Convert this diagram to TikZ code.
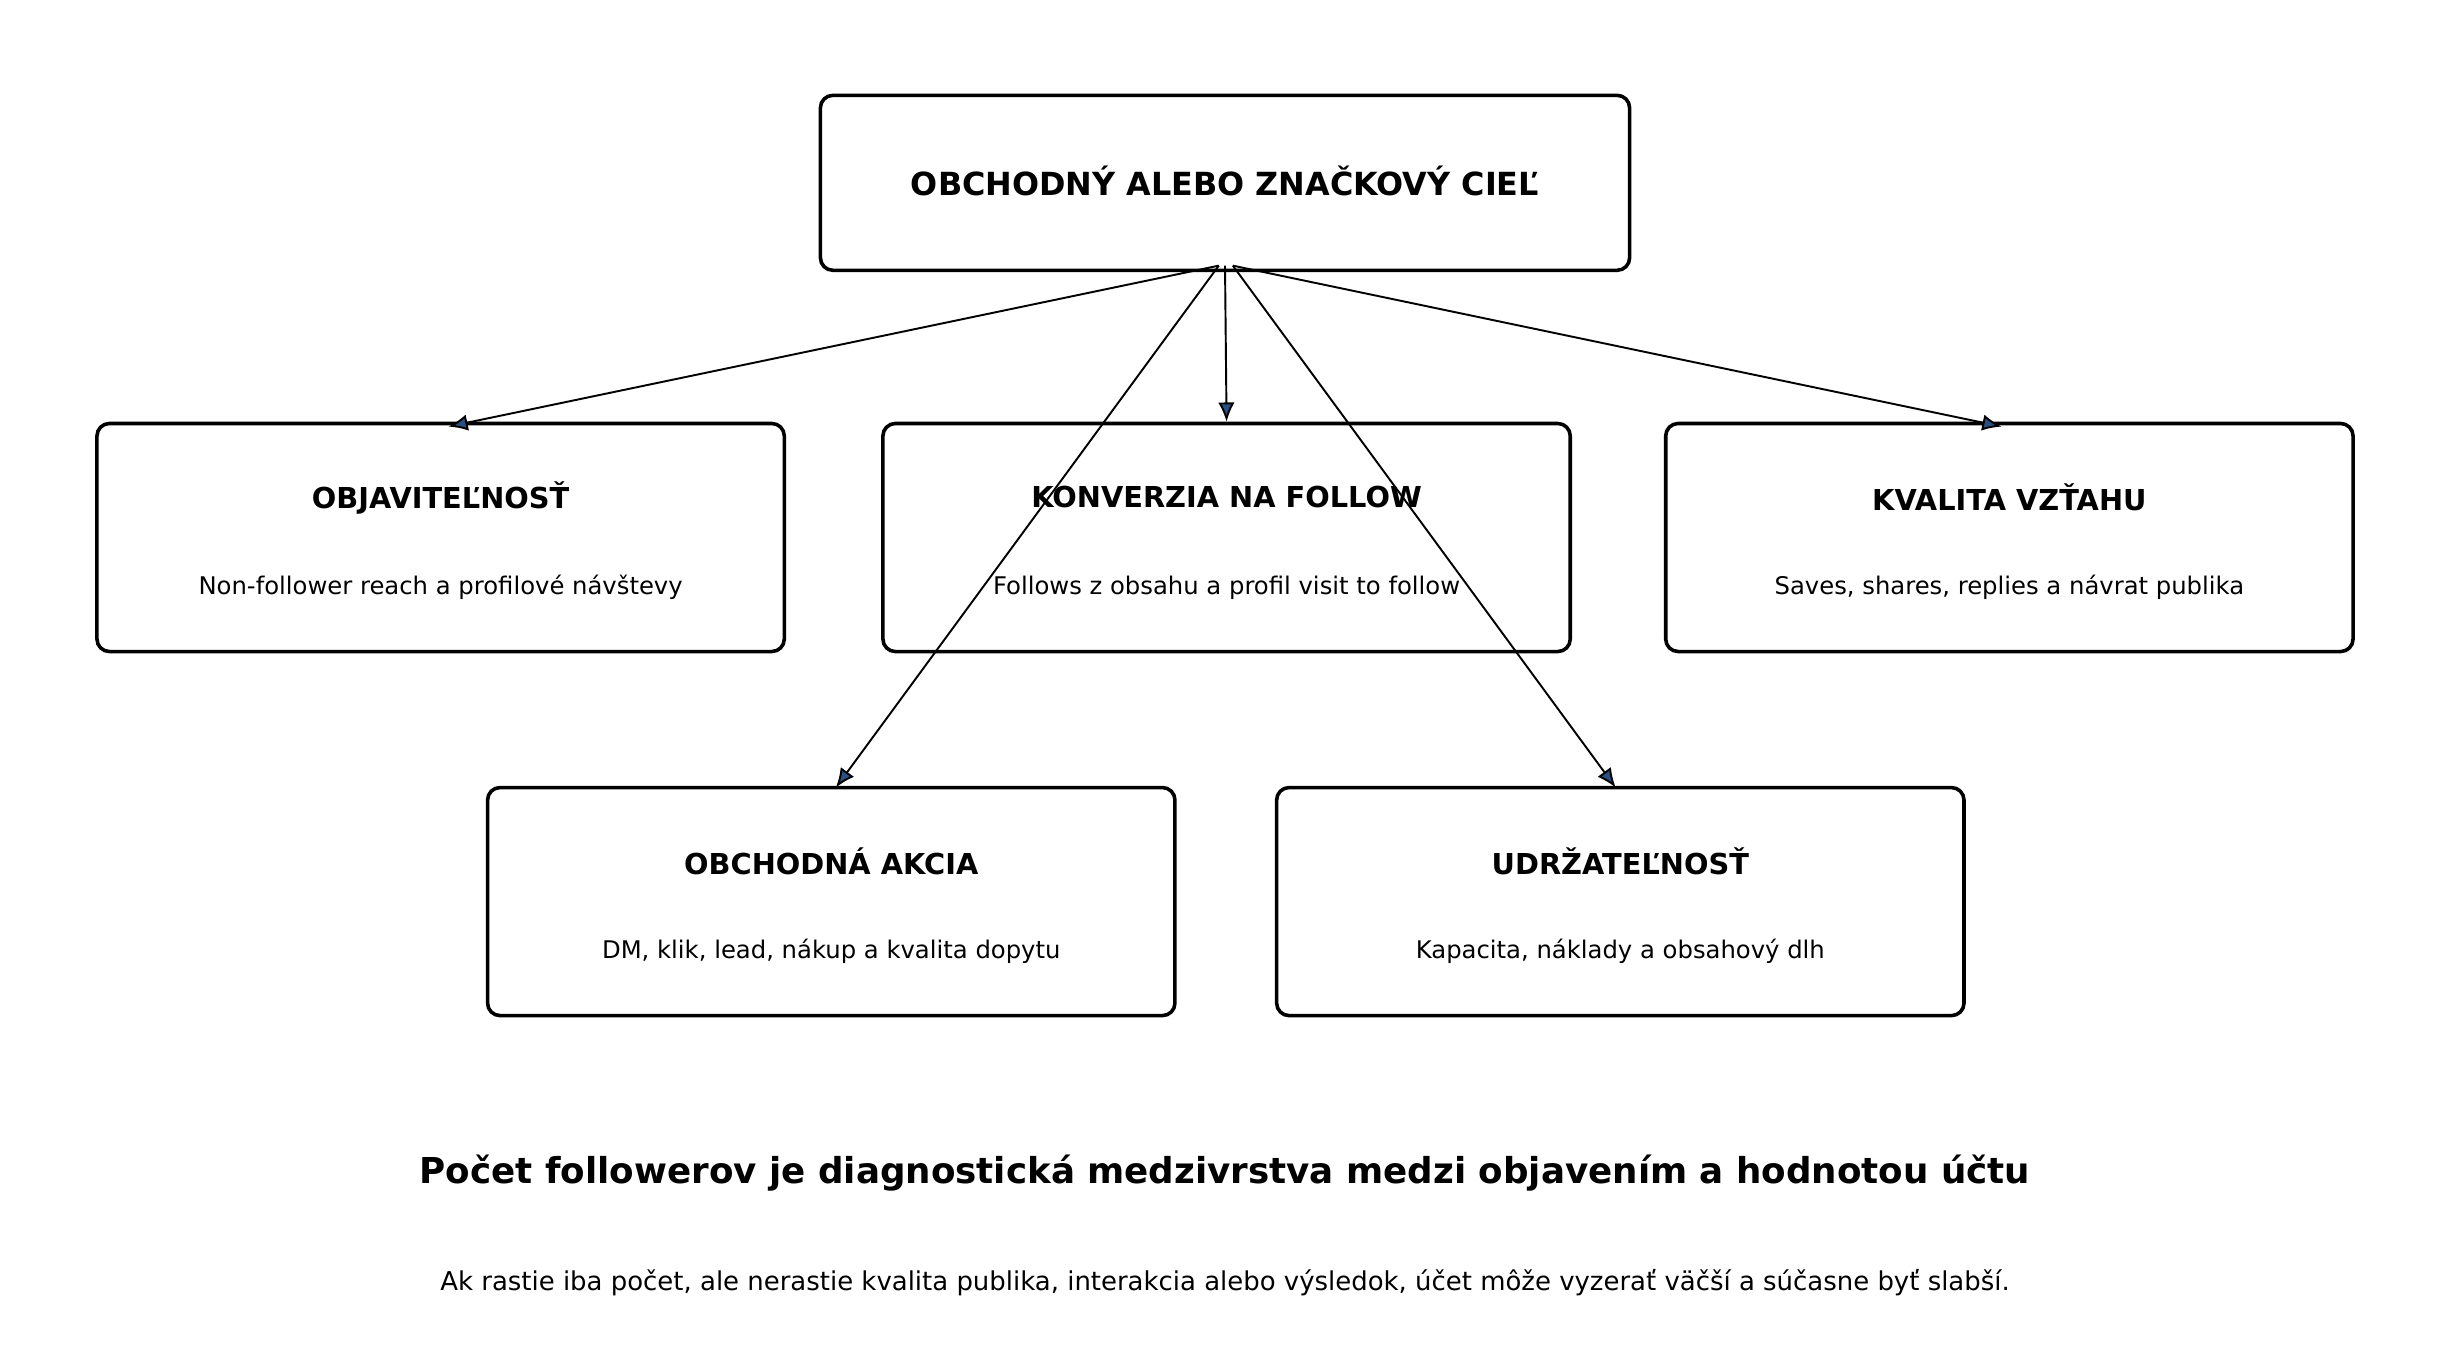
\documentclass[tikz,border=0pt]{standalone}
\usepackage{fontspec}
\setmainfont{DejaVu Sans}
\usetikzlibrary{arrows.meta}
\definecolor{tipc}{RGB}{40,80,130}
\begin{document}
\begin{tikzpicture}[x=0.02cm,y=-0.02cm,
  box/.style={draw=black,line width=1.3pt,rounded corners=0.16cm,minimum width=8.8cm,minimum height=2.92cm,inner sep=0pt},
  ttl/.style={font=\bfseries\fontsize{10.5}{12}\selectfont},
  sub/.style={font=\fontsize{8.85}{11}\selectfont},
  arr/.style={line width=0.7pt,-{Latex[length=7pt,width=6pt,fill=tipc]}}]
\useasboundingbox (0,0) rectangle (1568,863);
\node[box,minimum width=10.36cm,minimum height=2.24cm] (top) at (784,117) {};
\node[font=\bfseries\fontsize{11.6}{13}\selectfont] (topt) at (784,116) {OBCHODNÝ ALEBO ZNAČKOVÝ CIEĽ};
\node[box] (b1) at (282,344) {};
\node[box] (b2) at (785,344) {};
\node[box] (b3) at (1286,344) {};
\node[box] (b4) at (532,577) {};
\node[box] (b5) at (1037,577) {};
\node[ttl] (t1) at (282,319) {OBJAVITEĽNOSŤ};
\node[sub] (s1) at (282,376) {Non-follower reach a profilové návštevy};
\node[ttl] (t2) at (785,318) {KONVERZIA NA FOLLOW};
\node[sub] (s2) at (785,376) {Follows z obsahu a profil visit to follow};
\node[ttl] (t3) at (1286,318) {KVALITA VZŤAHU};
\node[sub] (s3) at (1286,376) {Saves, shares, replies a návrat publika};
\node[ttl] (t4) at (532,551) {OBCHODNÁ AKCIA};
\node[sub] (s4) at (532,609) {DM, klik, lead, nákup a kvalita dopytu};
\node[ttl] (t5) at (1037,551) {UDRŽATEĽNOSŤ};
\node[sub] (s5) at (1037,609) {Kapacita, náklady a obsahový dlh};
\node[font=\bfseries\fontsize{13}{16}\selectfont] (f1) at (784,751) {Počet followerov je diagnostická medzivrstva medzi objavením a hodnotou účtu};
\node[font=\fontsize{9.45}{12}\selectfont] (f2) at (784,821) {Ak rastie iba počet, ale nerastie kvalita publika, interakcia alebo výsledok, účet môže vyzerať väčší a súčasne byť slabší.};
\coordinate (sa) at (780,170);
\coordinate (sb) at (784,170);
\coordinate (sc) at (789,170);
\draw[arr] (sa) -- (287,273);
\draw[arr] (sb) -- (b2.north);
\draw[arr] (sc) -- (1281,273);
\draw[arr] (sa) -- (535,504);
\draw[arr] (sc) -- (1034,504);
\end{tikzpicture}
\end{document}
